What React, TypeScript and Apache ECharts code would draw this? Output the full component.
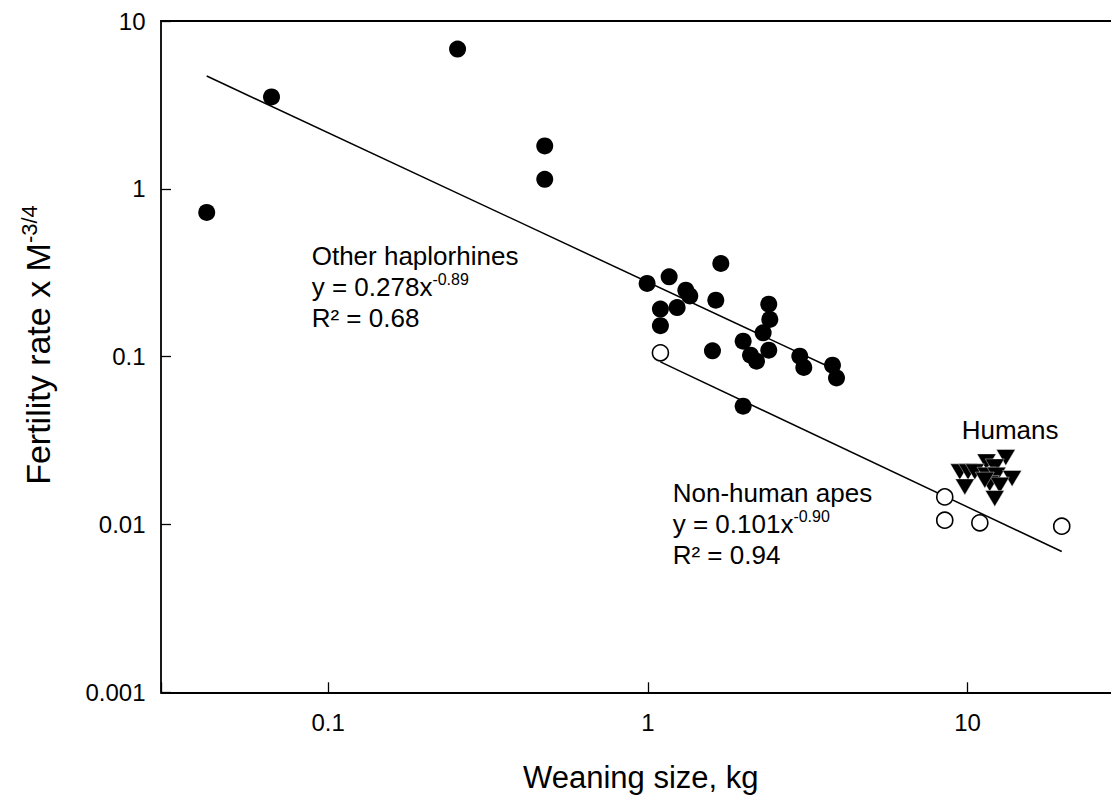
import React, { useEffect, useRef } from 'react';
import * as echarts from 'echarts';

// Weaning size (kg), fertility rate x M^-3/4
const otherHaplorhines: [number, number][] = [
  [0.0417, 0.723],
  [0.0665, 3.53],
  [0.254, 6.8],
  [0.476, 1.8],
  [0.476, 1.14],
  [0.995, 0.273],
  [1.166, 0.299],
  [1.315, 0.249],
  [1.353, 0.23],
  [1.632, 0.217],
  [1.692, 0.359],
  [1.095, 0.192],
  [1.235, 0.196],
  [1.095, 0.153],
  [2.39, 0.2055],
  [2.408, 0.1666],
  [2.295, 0.1386],
  [1.987, 0.1237],
  [2.39, 0.1093],
  [1.593, 0.1083],
  [2.096, 0.1021],
  [2.188, 0.094],
  [2.988, 0.1007],
  [3.076, 0.0862],
  [3.782, 0.089],
  [3.893, 0.0747],
  [1.987, 0.0507],
];

const nonHumanApes: [number, number][] = [
  [1.095, 0.1054],
  [8.49, 0.0146],
  [8.49, 0.0106],
  [10.93, 0.01023],
  [19.72, 0.00977],
];

const humans: [number, number][] = [
  [13.18, 0.02508],
  [11.47, 0.0236],
  [12.17, 0.02204],
  [9.46, 0.02058],
  [10.04, 0.02058],
  [10.54, 0.02058],
  [11.47, 0.01967],
  [12.32, 0.01967],
  [13.79, 0.0188],
  [9.81, 0.01675],
  [11.74, 0.01755],
  [12.62, 0.01715],
  [12.17, 0.01429],
  [11.33, 0.01837],
];

// Trend line end points
const haplorhineTrend: [number, number][] = [
  [0.0417, 4.7],
  [3.89, 0.083],
];
const apeTrend: [number, number][] = [
  [1.095, 0.093],
  [19.72, 0.0069],
];

const xTickLabels = ['0.1', '1', '10'];
const yTickLabels = ['0.001', '0.01', '0.1', '1', '10'];

const FONT = '"Liberation Sans", Arial, Helvetica, sans-serif';

function pickLabel(labels: string[], v: number): string {
  for (const l of labels) {
    const n = parseFloat(l);
    if (Math.abs(v - n) <= n * 1e-6) return l;
  }
  return '';
}

const axisLineStyle = { color: '#000', width: 1.8 };

export default function App() {
  const ref = useRef<HTMLDivElement>(null);

  useEffect(() => {
    if (!ref.current) return;
    const chart = echarts.init(ref.current, null, { renderer: 'svg' });
    const rich = {
      m: { fontSize: 26, lineHeight: 31, fontFamily: FONT, fill: '#000' },
      s: { fontSize: 16, lineHeight: 11, verticalAlign: 'top', fontFamily: FONT, fill: '#000' },
    };
    chart.setOption({
      animation: false,
      backgroundColor: '#fff',
      textStyle: { fontFamily: FONT },
      grid: { left: 161, top: 21, width: 959, height: 671.3 },
      xAxis: [
        {
          type: 'log',
          logBase: 10,
          min: 0.03,
          max: 30,
          position: 'bottom',
          axisLine: { show: true, onZero: false, lineStyle: axisLineStyle },
          axisTick: { show: true, inside: true, length: 10, lineStyle: { color: '#000', width: 1.3 } },
          axisLabel: {
            show: true,
            margin: 18,
            fontSize: 24,
            color: '#000',
            fontFamily: FONT,
            formatter: (v: number) => pickLabel(xTickLabels, v),
          },
          splitLine: { show: false },
          minorTick: { show: false },
        },
        {
          type: 'log',
          logBase: 10,
          min: 0.03,
          max: 30,
          position: 'top',
          axisLine: { show: true, onZero: false, lineStyle: axisLineStyle },
          axisTick: { show: false },
          axisLabel: { show: false },
          splitLine: { show: false },
        },
      ],
      yAxis: {
        type: 'log',
        logBase: 10,
        min: 0.001,
        max: 10,
        axisLine: { show: true, onZero: false, lineStyle: axisLineStyle },
        axisTick: { show: true, inside: true, length: 10, lineStyle: { color: '#000', width: 1.3 } },
        axisLabel: {
          show: true,
          margin: 15.5,
          fontSize: 24,
          color: '#000',
          fontFamily: FONT,
          formatter: (v: number) => pickLabel(yTickLabels, v),
        },
        splitLine: { show: false },
      },
      series: [
        {
          type: 'line',
          name: 'Other haplorhines fit',
          data: haplorhineTrend,
          xAxisIndex: 0,
          symbol: 'none',
          lineStyle: { color: '#000', width: 1.5 },
          z: 1,
          silent: true,
        },
        {
          type: 'line',
          name: 'Non-human apes fit',
          data: apeTrend,
          xAxisIndex: 0,
          symbol: 'none',
          lineStyle: { color: '#000', width: 1.5 },
          z: 1,
          silent: true,
        },
        {
          type: 'scatter',
          name: 'Other haplorhines',
          data: otherHaplorhines,
          xAxisIndex: 0,
          symbol: 'circle',
          symbolSize: 17,
          itemStyle: { color: '#000', opacity: 1 },
          z: 3,
        },
        {
          type: 'scatter',
          name: 'Non-human apes',
          data: nonHumanApes,
          xAxisIndex: 0,
          symbol: 'circle',
          symbolSize: 16,
          itemStyle: { color: '#fff', borderColor: '#000', borderWidth: 1.6, opacity: 1 },
          z: 3,
        },
        {
          type: 'scatter',
          name: 'Humans',
          data: humans,
          xAxisIndex: 0,
          symbol: 'triangle',
          symbolRotate: 180,
          symbolSize: [19, 16],
          itemStyle: { color: '#000', borderColor: '#fff', borderWidth: 0.4, opacity: 1 },
          z: 4,
        },
      ],
      graphic: [
        {
          type: 'text',
          x: 38,
          y: 345,
          rotation: Math.PI / 2,
          style: {
            text: '{m|Fertility rate x M}{s|-3/4}',
            align: 'center',
            verticalAlign: 'middle',
            rich: {
              m: { fontSize: 34, lineHeight: 40, fontFamily: FONT, fill: '#000' },
              s: { fontSize: 22, lineHeight: 14, verticalAlign: 'top', fontFamily: FONT, fill: '#000' },
            },
          },
        },
        {
          type: 'text',
          x: 640.8,
          y: 777.5,
          style: {
            text: 'Weaning size, kg',
            fontSize: 31,
            fontFamily: FONT,
            fill: '#000',
            align: 'center',
            verticalAlign: 'middle',
          },
        },
        {
          type: 'text',
          x: 311.7,
          y: 240.5,
          style: {
            text: '{m|Other haplorhines}\n{m|y = 0.278x}{s|-0.89}\n{m|R² = 0.68}',
            align: 'left',
            verticalAlign: 'top',
            rich,
          },
        },
        {
          type: 'text',
          x: 672.7,
          y: 477.5,
          style: {
            text: '{m|Non-human apes}\n{m|y = 0.101x}{s|-0.90}\n{m|R² = 0.94}',
            align: 'left',
            verticalAlign: 'top',
            rich,
          },
        },
        {
          type: 'text',
          x: 961.7,
          y: 414,
          style: {
            text: '{m|Humans}',
            align: 'left',
            verticalAlign: 'top',
            rich,
          },
        },
      ],
    });
    return () => chart.dispose();
  }, []);

  return (
    <div
      style={{
        position: 'fixed',
        left: 0,
        top: 0,
        width: 1111,
        height: 800,
        overflow: 'hidden',
        background: '#fff',
      }}
    >
      <div ref={ref} style={{ width: 1125, height: 800 }} />
    </div>
  );
}
